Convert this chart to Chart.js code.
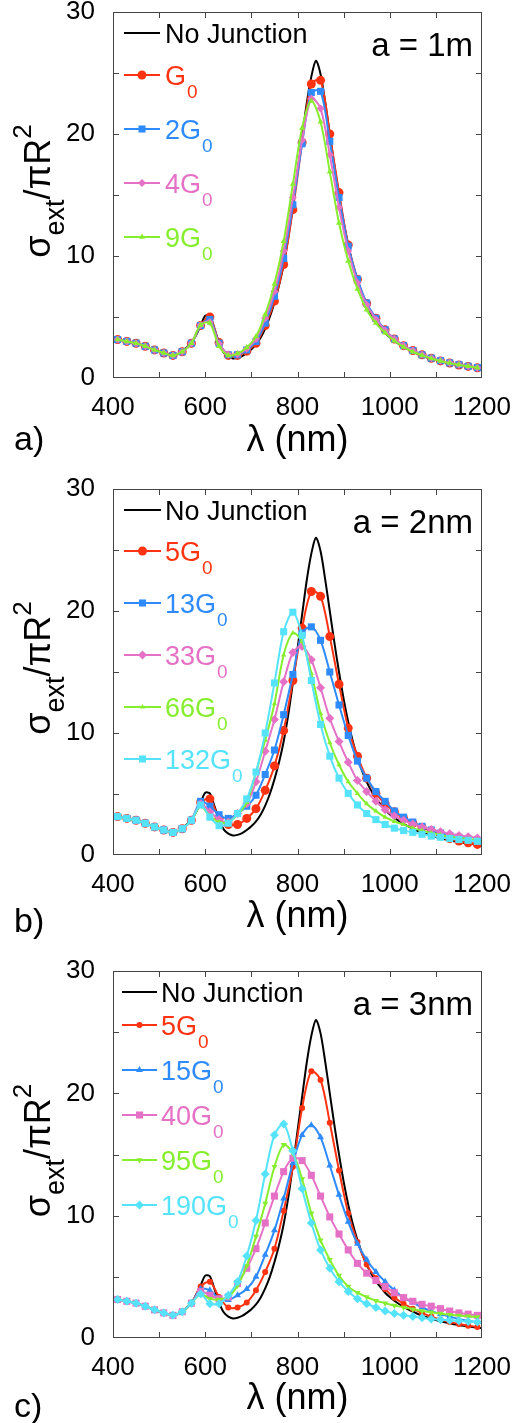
<!DOCTYPE html>
<html lang="en">
<head>
    <meta charset="UTF-8">
    <title>Extinction spectra with junction conductance</title>
    <script src="https://cdn.jsdelivr.net/npm/chart.js"></script>
    <style>
        body { margin: 0; background: #fff; }
        canvas { position: absolute; left: 0; }
    </style>
</head>
<body>
    <canvas id="chartA" width="519" height="470" style="top:0px"></canvas>
    <canvas id="chartB" width="519" height="475" style="top:470px"></canvas>
    <canvas id="chartC" width="519" height="483" style="top:940px"></canvas>

    <script>
        // wavelength grids (nm)
        const lamFine = [400,410,420,430,440,450,460,470,480,490,500,510,520,530,540,550,560,570,580,590,
            600,610,620,630,640,650,660,670,680,690,700,710,720,730,740,750,760,770,780,790,
            800,810,820,830,840,850,860,870,880,890,900,910,920,930,940,950,960,970,980,990,
            1000,1010,1020,1030,1040,1050,1060,1070,1080,1090,1100,1110,1120,1130,1140,1150,1160,1170,1180,1190,1200];
        const lamCoarse = [410,430,450,470,490,510,530,550,570,590,610,630,650,670,690,710,730,750,770,790,
            810,830,850,870,890,910,930,950,970,990,1010,1030,1050,1070,1090,1110,1130,1150,1170,1190];

        // no junction reference curve (same in all panels)
        const noJunction = [3.22,3.15,3.08,3.0,2.93,2.85,2.73,2.6,2.45,2.3,2.17,2.05,1.94,1.85,1.95,2.2,2.5,2.9,3.5,4.3,
            5.1,5.05,4.0,2.9,2.1,1.75,1.6,1.65,1.8,2.05,2.35,2.75,3.3,4.05,5.0,6.2,7.6,9.3,11.5,14.1,
            16.9,19.7,22.5,24.7,26.0,24.9,22.6,20.0,17.4,15.0,12.8,10.9,9.3,8.0,6.9,6.0,5.25,4.65,4.15,3.7,
            3.35,3.05,2.78,2.55,2.34,2.15,1.98,1.83,1.7,1.58,1.47,1.37,1.28,1.2,1.13,1.06,1.0,0.95,0.9,0.85,0.81];

        // a) a = 1m
        const labelsA = ['No Junction', 'G0', '2G0', '4G0', '9G0'];
        const aG1 = [3.15,3.0,2.85,2.6,2.3,2.05,1.85,2.15,2.85,4.3,5.0,2.9,1.85,1.85,2.2,2.85,4.3,6.3,9.3,13.8,
            19.3,24.1,24.4,20.0,15.2,10.9,8.1,6.1,4.9,3.95,3.2,2.65,2.25,1.9,1.62,1.4,1.22,1.07,0.95,0.83];
        const aG2 = [3.15,3.0,2.85,2.6,2.3,2.05,1.85,2.15,2.85,4.3,4.8,2.85,1.9,1.9,2.3,3.0,4.5,6.7,9.8,14.2,
            19.2,23.4,23.5,19.4,14.8,10.8,8.1,6.15,4.9,3.95,3.2,2.65,2.25,1.9,1.63,1.42,1.24,1.09,0.96,0.85];
        const aG4 = [3.15,3.0,2.85,2.6,2.3,2.05,1.85,2.15,2.85,4.35,4.6,2.8,1.95,1.95,2.4,3.2,4.9,7.1,10.4,14.8,
            19.5,22.9,22.1,18.3,14.0,10.4,7.8,6.0,4.8,3.9,3.2,2.65,2.25,1.9,1.63,1.42,1.24,1.09,0.96,0.85];
        const aG9 = [3.15,3.0,2.85,2.6,2.3,2.05,1.85,2.15,2.85,4.35,4.5,2.6,1.85,2.0,2.5,3.4,5.2,7.7,11.2,15.9,
            20.5,22.7,21.0,16.9,12.7,9.6,7.3,5.6,4.5,3.7,3.05,2.55,2.15,1.85,1.6,1.4,1.22,1.08,0.96,0.85];

        // b) a = 2nm
        const labelsB = ['No Junction', '5G0', '13G0', '33G0', '66G0', '132G0'];
        const bG5 = [3.15,3.0,2.85,2.6,2.3,2.05,1.85,2.15,2.85,4.3,4.6,3.0,2.5,2.5,3.0,3.8,5.3,7.3,10.2,14.3,
            18.6,21.6,21.2,17.9,14.0,10.4,8.1,6.3,5.05,4.2,3.55,3.0,2.6,2.25,1.95,1.6,1.35,1.15,1.0,0.87];
        const bG13 = [3.15,3.0,2.85,2.6,2.3,2.05,1.85,2.15,2.85,4.4,4.0,3.3,3.0,3.4,4.0,4.9,6.6,8.6,11.5,14.8,
            18.2,18.7,17.6,15.0,12.3,9.8,7.7,6.3,5.2,4.4,3.6,3.1,2.7,2.35,2.05,1.8,1.6,1.45,1.3,1.15];
        const bG33 = [3.15,3.0,2.85,2.6,2.3,2.05,1.85,2.15,2.85,4.2,3.55,2.9,2.7,3.4,4.2,6.0,8.5,11.1,14.2,16.6,
            17.1,16.0,13.7,11.2,9.3,7.6,6.1,5.2,4.4,3.7,3.2,2.85,2.55,2.3,2.1,1.9,1.75,1.6,1.5,1.4];
        const bG66 = [3.15,3.0,2.85,2.6,2.3,2.05,1.85,2.15,2.85,4.0,3.2,2.7,2.7,3.3,4.3,6.8,9.4,12.4,16.4,18.2,
            17.5,14.9,11.6,9.2,7.4,6.0,5.05,4.2,3.6,3.1,2.75,2.5,2.2,2.0,1.8,1.65,1.5,1.4,1.3,1.25];
        const bG132 = [3.15,3.0,2.85,2.6,2.3,2.05,1.85,2.15,2.85,4.1,3.1,2.4,2.6,3.4,4.6,6.8,10.0,14.1,18.3,19.9,
            18.0,14.3,10.7,8.1,6.3,5.05,4.1,3.4,2.9,2.5,2.2,2.0,1.85,1.7,1.55,1.45,1.35,1.27,1.2,1.12];

        // c) a = 3nm
        const labelsC = ['No Junction', '5G0', '15G0', '40G0', '95G0', '190G0'];
        const cG5 = [3.15,3.0,2.85,2.6,2.3,2.05,1.85,2.15,2.85,4.2,4.6,3.35,2.5,2.5,2.9,3.9,5.4,7.3,10.4,14.0,
            18.8,21.8,21.1,17.6,13.7,10.2,7.85,6.0,4.9,4.0,3.3,2.8,2.4,2.05,1.75,1.5,1.3,1.15,1.0,0.9];
        const cG15 = [3.15,3.0,2.85,2.6,2.3,2.05,1.85,2.15,2.85,4.0,3.9,3.2,3.1,3.5,4.0,5.0,6.8,8.8,11.4,14.3,
            16.6,17.4,16.4,14.1,11.7,9.5,7.7,6.4,5.4,4.6,3.9,3.3,2.9,2.5,2.2,1.95,1.75,1.55,1.4,1.3];
        const cG40 = [3.15,3.0,2.85,2.6,2.3,2.05,1.85,2.15,2.85,3.8,3.5,3.2,3.35,4.45,5.7,7.3,9.4,11.6,13.6,14.7,
            14.5,13.3,11.6,9.9,8.5,7.2,6.1,5.3,4.7,4.2,3.7,3.3,3.0,2.75,2.6,2.4,2.2,2.05,1.95,1.85];
        const cG95 = [3.15,3.0,2.85,2.6,2.3,2.05,1.85,2.15,2.85,3.6,3.2,3.15,3.35,4.3,5.9,8.3,11.0,14.0,15.8,15.1,
            13.0,10.2,8.0,6.4,5.1,4.2,3.7,3.35,3.05,2.85,2.65,2.5,2.35,2.2,2.1,2.0,1.9,1.83,1.77,1.72];
        const cG190 = [3.15,3.0,2.85,2.6,2.3,2.05,1.85,2.15,2.85,3.6,2.8,2.8,3.5,4.6,6.7,9.6,13.4,16.6,17.5,15.3,
            12.2,9.4,7.2,5.7,4.6,3.8,3.2,2.8,2.5,2.2,2.0,1.85,1.75,1.65,1.55,1.5,1.45,1.4,1.35,1.3];

        const COLORS = ['#ff3311', '#2d8bff', '#e571c6', '#86ee2e', '#55e3fb'];
        const FONT = "'Liberation Sans', Arial, Helvetica, sans-serif";

        Chart.defaults.font.family = FONT;
        Chart.defaults.color = '#000';

        function drawMarker(ctx, style, rot, r, x, y) {
            if (Chart.helpers && Chart.helpers.drawPoint) {
                Chart.helpers.drawPoint(ctx, { pointStyle: style, rotation: rot, radius: r, borderWidth: 0 }, x, y);
            } else {
                ctx.beginPath(); ctx.arc(x, y, r, 0, Math.PI * 2); ctx.fill();
            }
        }

        // frame, inward ticks, legend, annotations and the y title
        const decor = {
            id: 'decor',
            afterDraw(chart) {
                const o = chart.options.plugins.decor;
                const { ctx, chartArea: a } = chart;
                const x = chart.scales.x, y = chart.scales.y;
                ctx.save();

                ctx.strokeStyle = '#444';
                ctx.lineWidth = 1;
                ctx.strokeRect(a.left + 0.5, a.top + 0.5, a.right - a.left - 1, a.bottom - a.top - 1);
                ctx.beginPath();
                x.ticks.forEach(t => {
                    if (t.value <= x.min || t.value >= x.max) return;
                    const px = Math.round(x.getPixelForValue(t.value)) + 0.5;
                    ctx.moveTo(px, a.bottom); ctx.lineTo(px, a.bottom - 6);
                    ctx.moveTo(px, a.top); ctx.lineTo(px, a.top + 6);
                });
                y.ticks.forEach(t => {
                    if (t.value <= y.min || t.value >= y.max) return;
                    const py = Math.round(y.getPixelForValue(t.value)) + 0.5;
                    ctx.moveTo(a.left, py); ctx.lineTo(a.left + 6, py);
                    ctx.moveTo(a.right, py); ctx.lineTo(a.right - 6, py);
                });
                ctx.stroke();

                // legend
                chart.data.datasets.forEach((ds, i) => {
                    const ry = a.top + (i === 0 ? o.legendFirst : o.legendSecond + (i - 1) * o.legendStep);
                    ctx.strokeStyle = ds.borderColor;
                    ctx.lineWidth = 2;
                    ctx.beginPath();
                    ctx.moveTo(o.lx0, ry); ctx.lineTo(o.lx1, ry);
                    ctx.stroke();
                    if (ds.pointRadius) {
                        ctx.fillStyle = ds.backgroundColor;
                        drawMarker(ctx, ds.pointStyle, ds.pointRotation || 0, ds.pointRadius, (o.lx0 + o.lx1) / 2, ry);
                    }
                    ctx.fillStyle = ds.borderColor;
                    ctx.textAlign = 'left';
                    ctx.textBaseline = 'alphabetic';
                    ctx.font = '27px ' + FONT;
                    const base = ry + 10;
                    if (ds.label.endsWith('G0')) {
                        const main = ds.label.slice(0, -1);
                        ctx.fillText(main, o.tx, base);
                        const w = ctx.measureText(main).width;
                        ctx.font = '19px ' + FONT;
                        ctx.fillText('0', o.tx + w + 1, base + 13);
                    } else {
                        ctx.fillText(ds.label, o.tx, base);
                    }
                });

                // size annotation
                ctx.fillStyle = '#000';
                ctx.font = '33px ' + FONT;
                ctx.textAlign = 'right';
                ctx.fillText(o.note, 473, a.top + 44);

                // panel tag
                ctx.textAlign = 'left';
                ctx.font = '34px ' + FONT;
                ctx.fillText(o.tag, 14, o.tagY);

                // y title: sigma_ext / pi R^2
                const parts = [
                    { t: 'σ', s: 36, dy: 0 },
                    { t: 'ext', s: 27, dy: 14 },
                    { t: '/', s: 36, dy: 0 },
                    { t: 'π', s: 36, dy: 0 },
                    { t: 'R', s: 36, dy: 0 },
                    { t: '2', s: 26, dy: -19 }
                ];
                let total = 0;
                parts.forEach(p => { ctx.font = p.s + 'px ' + FONT; p.w = ctx.measureText(p.t).width; total += p.w; });
                ctx.translate(50, (a.top + a.bottom) / 2 - 4);
                ctx.rotate(-Math.PI / 2);
                let cx = -total / 2;
                parts.forEach(p => {
                    ctx.font = p.s + 'px ' + FONT;
                    ctx.fillText(p.t, cx, p.dy);
                    cx += p.w;
                });
                ctx.restore();
            }
        };

        function buildPanel(id, labels, series, markers, cfg) {
            const datasets = [{
                label: labels[0],
                data: lamFine.map((v, k) => ({ x: v, y: noJunction[k] })),
                borderColor: '#000',
                backgroundColor: '#000',
                borderWidth: 2,
                pointRadius: 0,
                tension: 0.3,
                order: 10
            }];
            series.forEach((s, i) => {
                datasets.push({
                    label: labels[i + 1],
                    data: lamCoarse.map((v, k) => ({ x: v, y: s[k] })),
                    borderColor: COLORS[i],
                    backgroundColor: COLORS[i],
                    borderWidth: 2,
                    pointStyle: markers[i][0],
                    pointRotation: markers[i][2] || 0,
                    pointRadius: markers[i][1],
                    pointBorderWidth: 0,
                    tension: 0.3,
                    order: 9 - i
                });
            });

            return new Chart(document.getElementById(id), {
                type: 'line',
                data: { datasets },
                plugins: [decor],
                options: {
                    responsive: false,
                    animation: false,
                    events: [],
                    layout: { padding: { top: cfg.top, right: 37, left: 0, bottom: 0 } },
                    plugins: {
                        legend: { display: false },
                        tooltip: { enabled: false },
                        decor: cfg.decor
                    },
                    scales: {
                        x: {
                            type: 'linear', min: 400, max: 1200,
                            afterFit: s => { s.height = cfg.xh; s.paddingLeft = 0; s.paddingRight = 0; },
                            grid: { display: false },
                            border: { display: false },
                            ticks: {
                                stepSize: 100, autoSkip: false, maxRotation: 0, padding: 6,
                                font: { size: 26 },
                                callback: v => (v % 200 === 0 ? v : '')
                            },
                            title: {
                                display: true, text: 'λ (nm)',
                                font: { size: 36, lineHeight: 1 },
                                padding: { top: 0, bottom: cfg.titlePad }
                            }
                        },
                        y: {
                            min: 0, max: 30,
                            afterFit: s => { s.width = 113; s.paddingTop = 0; s.paddingBottom = 0; },
                            grid: { display: false },
                            border: { display: false },
                            ticks: {
                                stepSize: 5, padding: 10,
                                font: { size: 26 },
                                callback: v => (v % 10 === 0 ? v : '')
                            }
                        }
                    }
                }
            });
        }

        buildPanel('chartA', labelsA, [aG1, aG2, aG4, aG9],
            [['circle', 4.5], ['rect', 5], ['rectRot', 4], ['triangle', 3.5]],
            { top: 12, xh: 92, titlePad: 11,
              decor: { legendFirst: 21, legendSecond: 63, legendStep: 54, lx0: 124, lx1: 160, tx: 165,
                       note: 'a = 1m', tag: 'a)', tagY: 450 } });

        buildPanel('chartB', labelsB, [bG5, bG13, bG33, bG66, bG132],
            [['circle', 4.5], ['rect', 5], ['rectRot', 4.5], ['triangle', 3], ['rect', 5]],
            { top: 19, xh: 90, titlePad: 10,
              decor: { legendFirst: 21, legendSecond: 62, legendStep: 52, lx0: 124, lx1: 161, tx: 165,
                       note: 'a = 2nm', tag: 'b)', tagY: 462 } });

        buildPanel('chartC', labelsC, [cG5, cG15, cG40, cG95, cG190],
            [['circle', 3], ['triangle', 4], ['rect', 5], ['triangle', 3.5, 180], ['rectRot', 4.5]],
            { top: 31, xh: 85, titlePad: 6,
              decor: { legendFirst: 21, legendSecond: 54, legendStep: 45, lx0: 122, lx1: 157, tx: 161,
                       note: 'a = 3nm', tag: 'c)', tagY: 477 } });
    </script>
</body>
</html>
